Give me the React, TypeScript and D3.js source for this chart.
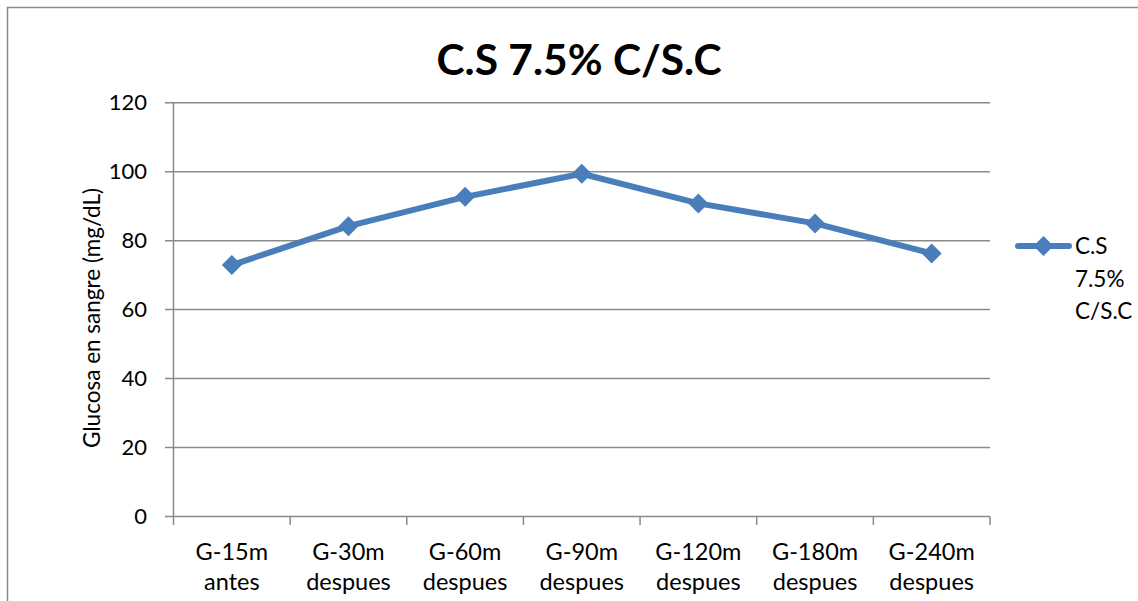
import React from "react";
import * as d3 from "d3";

const categories = [
  ["G-15m", "antes"],
  ["G-30m", "despues"],
  ["G-60m", "despues"],
  ["G-90m", "despues"],
  ["G-120m", "despues"],
  ["G-180m", "despues"],
  ["G-240m", "despues"],
];
const values = [72.9, 84.2, 92.7, 99.4, 90.8, 85.0, 76.3];
const yTicks = [0, 20, 40, 60, 80, 100, 120];
const seriesName = ["C.S", "7.5%", "C/S.C"];
const title = "C.S 7.5% C/S.C";
const yLabel = "Glucosa en sangre (mg/dL)";

const W = 1138;
const H = 601;
const FONT = "Lato, 'Open Sans', sans-serif";
const BLUE = "#4A7EBB";
const GRID = "#8a8a8a";

export default function App() {
  const left = 173.5;
  const right = 990;
  const top = 102.7;
  const bottom = 516.5;
  const x = d3
    .scaleBand<number>()
    .domain(d3.range(categories.length))
    .range([left, right]);
  const y = d3.scaleLinear().domain([0, 120]).range([bottom, top]);
  const cx = (i: number) => (x(i) as number) + x.bandwidth() / 2;
  const line = d3
    .line<number>()
    .x((_, i) => cx(i))
    .y((d) => y(d));
  const diamond = (px: number, py: number, r: number) =>
    `M${px},${py - r}L${px + r},${py}L${px},${py + r}L${px - r},${py}Z`;

  const boundaries = d3.range(categories.length + 1).map((i) =>
    i < categories.length ? (x(i) as number) : right
  );

  return (
    <svg
      width={W}
      height={H}
      style={{ position: "absolute", left: 0, top: 0, background: "#fff" }}
      fontFamily={FONT}
    >
      <rect x={0} y={0} width={W} height={H} fill="#fff" />
      <rect
        x={7.5}
        y={7.5}
        width={W + 20}
        height={H + 20}
        fill="none"
        stroke={GRID}
        strokeWidth={1.5}
      />
      <text
        x={579}
        y={75}
        textAnchor="middle"
        fontSize={42.5}
        fontWeight="bold"
        fill="#000"
      >
        {title}
      </text>
      {/* gridlines */}
      {yTicks.map((t) => (
        <g key={t}>
          <line
            x1={165}
            x2={right}
            y1={y(t)}
            y2={y(t)}
            stroke={GRID}
            strokeWidth={1.5}
          />
          <text
            x={147}
            y={y(t) + 7.5}
            textAnchor="end"
            fontSize={22}
            fill="#000"
          >
            {t}
          </text>
        </g>
      ))}
      {/* y axis */}
      <line x1={left} x2={left} y1={top} y2={bottom} stroke={GRID} strokeWidth={1.5} />
      {/* x ticks */}
      {boundaries.map((bx, i) => (
        <line
          key={i}
          x1={bx}
          x2={bx}
          y1={bottom}
          y2={bottom + 8.5}
          stroke={GRID}
          strokeWidth={1.5}
        />
      ))}
      {categories.map((c, i) => (
        <text key={i} textAnchor="middle" fontSize={23.5} fill="#000">
          <tspan x={cx(i)} y={560}>
            {c[0]}
          </tspan>
          <tspan x={cx(i)} y={590}>
            {c[1]}
          </tspan>
        </text>
      ))}
      <text
        transform={`translate(100,318) rotate(-90)`}
        textAnchor="middle"
        fontSize={22.5}
        fill="#000"
      >
        {yLabel}
      </text>
      {/* series */}
      <path
        d={line(values) || ""}
        fill="none"
        stroke={BLUE}
        strokeWidth={6}
        strokeLinejoin="round"
        strokeLinecap="round"
      />
      {values.map((v, i) => (
        <path key={i} d={diamond(cx(i), y(v), 10)} fill={BLUE} />
      ))}
      {/* legend */}
      <line x1={1018} x2={1069} y1={246} y2={246} stroke={BLUE} strokeWidth={6} strokeLinecap="round" />
      <path d={diamond(1043.5, 246, 10)} fill={BLUE} />
      <text fontSize={22.5} fill="#000">
        {seriesName.map((s, i) => (
          <tspan key={i} x={1075} y={254 + i * 32.5}>
            {s}
          </tspan>
        ))}
      </text>
    </svg>
  );
}
